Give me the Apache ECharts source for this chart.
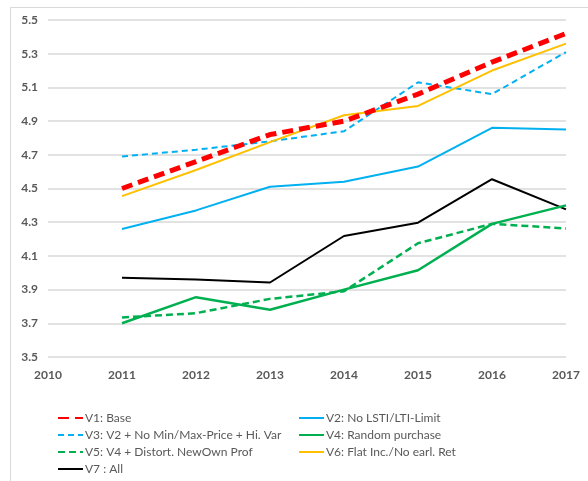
<!DOCTYPE html>
<html>
<head>
<meta charset="utf-8">
<script src="https://cdn.jsdelivr.net/npm/echarts@6/dist/echarts.min.js"></script>
<style>html,body{margin:0;padding:0;background:#fff}#c{width:588px;height:481px}</style>
</head>
<body>
<div id="c"></div>
<script>
const years = [2011, 2012, 2013, 2014, 2015, 2016, 2017];
const names = [
  "V1: Base",
  "V2: No LSTI/LTI-Limit",
  "V3: V2 + No Min/Max-Price + Hi. Var",
  "V4: Random purchase",
  "V5: V4 + Distort. NewOwn Prof",
  "V6: Flat Inc./No earl. Ret",
  "V7 : All"
];
const v1 = [4.50, 4.66, 4.82, 4.90, 5.06, 5.25, 5.42];
const v2 = [4.26, 4.37, 4.51, 4.54, 4.63, 4.86, 4.85];
const v3 = [4.69, 4.73, 4.78, 4.84, 5.13, 5.06, 5.31];
const v4 = [3.70, 3.855, 3.78, 3.90, 4.015, 4.29, 4.40];
const v5 = [3.735, 3.76, 3.845, 3.89, 4.175, 4.29, 4.263];
const v6 = [4.455, 4.61, 4.775, 4.935, 4.99, 5.20, 5.36];
const v7 = [3.97, 3.96, 3.942, 4.218, 4.297, 4.555, 4.376];
const yTicks = ["3.5","3.7","3.9","4.1","4.3","4.5","4.7","4.9","5.1","5.3","5.5"];

const pair = arr => years.map((y, i) => [y, arr[i]]);
const styles = [
  {color: '#FF0000', width: 5, type: [11, 6]},
  {color: '#00B0F0', width: 2, type: 'solid'},
  {color: '#00B0F0', width: 2, type: [6, 4]},
  {color: '#00B050', width: 2.5, type: 'solid'},
  {color: '#00B050', width: 2.5, type: [7, 4]},
  {color: '#FFC000', width: 2, type: 'solid'},
  {color: '#000000', width: 2, type: 'solid'}
];
const datas = [v1, v2, v3, v4, v5, v6, v7];
const order = [6, 3, 4, 1, 2, 5, 0];
const series = order.map(i => ({
  name: names[i],
  type: 'line',
  data: pair(datas[i]),
  symbol: 'none',
  lineStyle: styles[i],
  itemStyle: {color: styles[i].color},
  z: i === 0 ? 10 : 2,
  animation: false
}));

const font = 'Lato, "Liberation Sans", sans-serif';
const legendCommon = {
  orient: 'vertical',
  top: 411,
  padding: 0,
  itemWidth: 25,
  itemHeight: 14,
  itemGap: 3,
  itemStyle: {opacity: 0},
  textStyle: {fontFamily: font, fontSize: 12, color: '#595959', lineHeight: 14, padding: [0, 0, 0, -3]},
  selectedMode: false
};

const chart = echarts.init(document.getElementById('c'));
chart.setOption({
  backgroundColor: '#fff',
  animation: false,
  graphic: [{
    type: 'rect', left: 8, top: 5, silent: true,
    shape: {x: 8.5, y: 5.5, width: 700, height: 600},
    style: {fill: 'none', stroke: '#d9d9d9', lineWidth: 1}
  }],
  grid: {left: 48, right: 22, top: 20, bottom: 124},
  xAxis: {
    type: 'value', min: 2010, max: 2017, interval: 1,
    axisLine: {show: false},
    axisTick: {show: false},
    splitLine: {show: false},
    axisLabel: {fontFamily: font, fontSize: 12, fontWeight: 'bold', color: '#595959', margin: 12,
      formatter: v => String(v)}
  },
  yAxis: {
    type: 'value', min: 3.5, max: 5.5, interval: 0.2,
    axisLine: {show: false},
    axisTick: {show: false},
    splitLine: {lineStyle: {color: '#d9d9d9', width: 1.5}},
    axisLabel: {fontFamily: font, fontSize: 12, fontWeight: 'bold', color: '#595959', margin: 10,
      formatter: v => v.toFixed(1)}
  },
  legend: [
    Object.assign({left: 57, data: [names[0], names[2], names[4], names[6]]}, legendCommon),
    Object.assign({left: 298, data: [names[1], names[3], names[5]]}, legendCommon)
  ],
  series: series
});
</script>
</body>
</html>
